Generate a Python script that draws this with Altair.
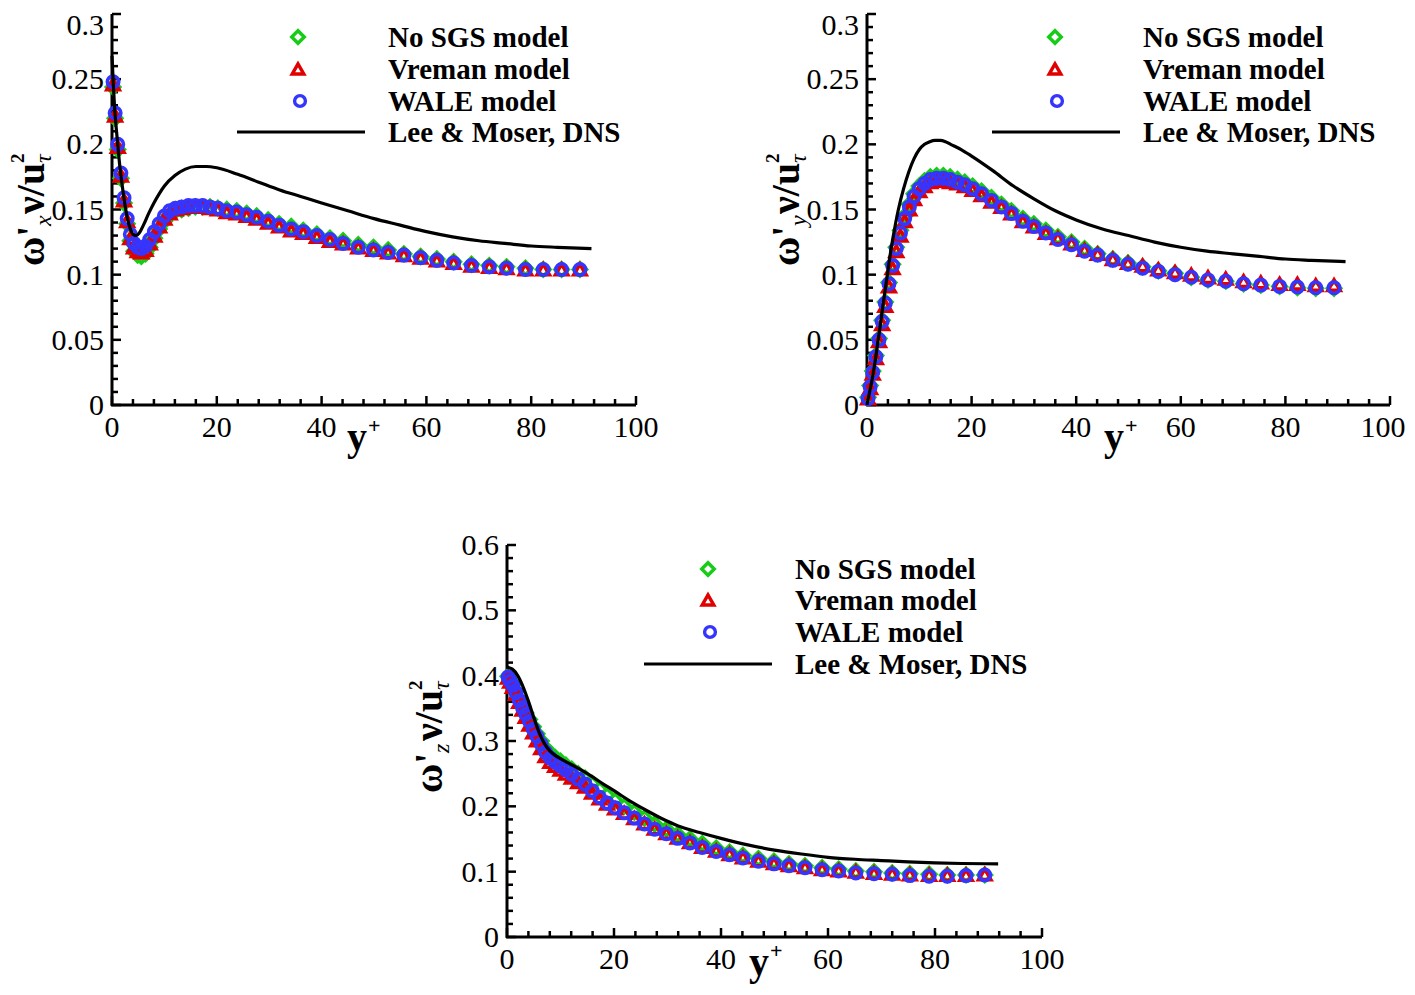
import altair as alt
import pandas as pd

# ---------------- data ----------------
yp = [0.2, 0.6, 1.1, 1.7, 2.3, 2.9, 3.5, 4.2, 4.9, 5.6,
      6.4, 7.2, 8.1, 9.0, 10.0, 11.0, 12.1, 13.3, 14.6, 15.9,
      17.3, 18.7, 20.2, 21.9, 23.8, 25.7, 27.6, 29.8, 31.9, 34.2,
      36.5, 39.1, 41.6, 44.1, 47.0, 49.9, 52.7, 55.7, 58.9, 62.0,
      65.2, 68.6, 72.0, 75.3, 78.9, 82.3, 85.8, 89.3]

# omega_x
wx_nosgs = [0.244, 0.220, 0.196, 0.174, 0.155, 0.139, 0.126, 0.118, 0.115, 0.114,
            0.116, 0.121, 0.128, 0.135, 0.141, 0.146, 0.149, 0.150, 0.151, 0.152,
            0.152, 0.152, 0.151, 0.150, 0.149, 0.147, 0.145, 0.142, 0.139, 0.137,
            0.134, 0.131, 0.128, 0.126, 0.123, 0.121, 0.119, 0.116, 0.114, 0.112,
            0.110, 0.108, 0.107, 0.106, 0.105, 0.104, 0.104, 0.104]
wx_vreman = [0.246, 0.222, 0.198, 0.176, 0.157, 0.141, 0.128, 0.121, 0.118, 0.117,
             0.119, 0.124, 0.130, 0.137, 0.143, 0.147, 0.150, 0.151, 0.152, 0.152,
             0.152, 0.151, 0.150, 0.148, 0.147, 0.145, 0.143, 0.140, 0.137, 0.134,
             0.132, 0.129, 0.126, 0.124, 0.121, 0.119, 0.117, 0.115, 0.113, 0.111,
             0.109, 0.107, 0.106, 0.105, 0.104, 0.104, 0.104, 0.104]
wx_wale = [0.248, 0.224, 0.200, 0.178, 0.159, 0.143, 0.131, 0.124, 0.121, 0.120,
           0.122, 0.127, 0.133, 0.139, 0.145, 0.149, 0.151, 0.152, 0.153, 0.153,
           0.153, 0.152, 0.151, 0.149, 0.148, 0.146, 0.144, 0.141, 0.138, 0.135,
           0.133, 0.130, 0.127, 0.124, 0.121, 0.119, 0.117, 0.115, 0.113, 0.111,
           0.109, 0.107, 0.106, 0.105, 0.104, 0.104, 0.104, 0.104]
dns_x_yp = [0, 0.5, 1, 1.5, 2, 2.5, 3, 3.5, 4, 4.6,
            5.2, 6, 7, 8, 9, 10, 12, 14, 16, 18,
            20, 24, 28, 32, 36, 40, 45, 50, 55, 60,
            65, 70, 75, 80, 85, 91.5]
dns_x = [0.268, 0.228, 0.204, 0.183, 0.167, 0.153, 0.142, 0.135, 0.131, 0.130,
         0.132, 0.138, 0.147, 0.155, 0.162, 0.168, 0.176, 0.181, 0.183, 0.183,
         0.182, 0.177, 0.171, 0.165, 0.160, 0.155, 0.149, 0.143, 0.138, 0.133,
         0.129, 0.126, 0.124, 0.122, 0.121, 0.120]

# omega_y
wy_nosgs = [0.006, 0.015, 0.026, 0.038, 0.051, 0.065, 0.079, 0.094, 0.108, 0.121,
            0.134, 0.145, 0.154, 0.162, 0.168, 0.172, 0.175, 0.176, 0.176, 0.175,
            0.173, 0.171, 0.168, 0.164, 0.159, 0.154, 0.149, 0.143, 0.139, 0.134,
            0.129, 0.125, 0.120, 0.116, 0.112, 0.109, 0.106, 0.103, 0.101, 0.098,
            0.096, 0.095, 0.093, 0.092, 0.091, 0.090, 0.0895, 0.0895]
wy_vreman = [0.005, 0.013, 0.024, 0.036, 0.049, 0.062, 0.076, 0.091, 0.105, 0.118,
             0.130, 0.141, 0.150, 0.158, 0.164, 0.168, 0.171, 0.172, 0.172, 0.171,
             0.170, 0.168, 0.165, 0.161, 0.156, 0.152, 0.147, 0.141, 0.137, 0.132,
             0.128, 0.124, 0.119, 0.116, 0.112, 0.109, 0.107, 0.104, 0.102, 0.100,
             0.098, 0.097, 0.095, 0.094, 0.093, 0.093, 0.092, 0.092]
wy_wale = [0.005, 0.014, 0.025, 0.037, 0.050, 0.064, 0.078, 0.093, 0.107, 0.120,
           0.132, 0.143, 0.152, 0.160, 0.166, 0.170, 0.173, 0.174, 0.174, 0.173,
           0.171, 0.169, 0.166, 0.162, 0.157, 0.152, 0.147, 0.141, 0.137, 0.132,
           0.127, 0.123, 0.118, 0.115, 0.111, 0.108, 0.105, 0.1025, 0.100, 0.098,
           0.096, 0.095, 0.093, 0.092, 0.091, 0.0905, 0.090, 0.090]
dns_y_yp = [0, 0.5, 1, 1.5, 2, 2.5, 3, 3.5, 4, 4.5,
            5, 6, 7, 8, 9, 10, 11, 12, 13, 14,
            15, 16, 18, 20, 24, 28, 32, 36, 40, 45,
            50, 55, 60, 65, 70, 75, 80, 85, 91.5]
dns_y = [0.0, 0.010, 0.020, 0.032, 0.046, 0.060, 0.075, 0.089, 0.103, 0.117,
         0.129, 0.150, 0.166, 0.179, 0.189, 0.196, 0.200, 0.202, 0.203, 0.203,
         0.202, 0.200, 0.196, 0.191, 0.180, 0.168, 0.158, 0.149, 0.142, 0.135,
         0.130, 0.125, 0.121, 0.118, 0.116, 0.114, 0.112, 0.111, 0.110]

# omega_z
wz_nosgs = [0.399, 0.393, 0.386, 0.376, 0.364, 0.353, 0.343, 0.333, 0.322, 0.311,
            0.300, 0.289, 0.281, 0.275, 0.269, 0.263, 0.257, 0.250, 0.243, 0.235,
            0.226, 0.217, 0.209, 0.200, 0.191, 0.182, 0.173, 0.165, 0.157, 0.150,
            0.143, 0.136, 0.130, 0.125, 0.120, 0.116, 0.112, 0.109, 0.106, 0.104,
            0.101, 0.100, 0.098, 0.097, 0.096, 0.095, 0.095, 0.095]
wz_vreman = [0.397, 0.391, 0.383, 0.372, 0.360, 0.348, 0.337, 0.325, 0.313, 0.301,
             0.289, 0.277, 0.268, 0.262, 0.256, 0.250, 0.244, 0.237, 0.230, 0.221,
             0.212, 0.204, 0.197, 0.190, 0.182, 0.174, 0.166, 0.159, 0.152, 0.145,
             0.138, 0.132, 0.127, 0.122, 0.117, 0.113, 0.110, 0.107, 0.104, 0.102,
             0.100, 0.098, 0.097, 0.096, 0.095, 0.095, 0.095, 0.096]
wz_wale = [0.398, 0.392, 0.385, 0.374, 0.362, 0.351, 0.341, 0.330, 0.318, 0.307,
           0.295, 0.283, 0.274, 0.268, 0.262, 0.256, 0.249, 0.242, 0.234, 0.224,
           0.214, 0.205, 0.198, 0.190, 0.182, 0.173, 0.165, 0.158, 0.151, 0.144,
           0.137, 0.131, 0.126, 0.121, 0.116, 0.112, 0.109, 0.106, 0.103, 0.101,
           0.098, 0.097, 0.096, 0.094, 0.093, 0.093, 0.094, 0.095]
dns_z_yp = [0, 1, 2, 3, 4, 5, 6, 7, 8, 9,
            10, 12, 14, 16, 18, 20, 23, 26, 29, 32,
            36, 40, 45, 50, 55, 60, 65, 70, 75, 80,
            85, 91.8]
dns_z = [0.413, 0.410, 0.400, 0.383, 0.361, 0.336, 0.313, 0.296, 0.285, 0.278,
         0.273, 0.264, 0.255, 0.245, 0.234, 0.224, 0.208, 0.194, 0.181, 0.170,
         0.160, 0.151, 0.141, 0.133, 0.127, 0.122, 0.119, 0.117, 0.115, 0.1135,
         0.1125, 0.112]

legend_labels = ["No SGS model", "Vreman model", "WALE model", "Lee & Moser, DNS"]
x_ticks = [0, 20, 40, 60, 80, 100]
x_tick_labels = ["0", "20", "40", "60", "80", "100"]
x_minor = [v for v in range(0, 101, 4) if v % 20]
y_ticks_top = [0, 0.05, 0.1, 0.15, 0.2, 0.25, 0.3]
y_labels_top = ["0", "0.05", "0.1", "0.15", "0.2", "0.25", "0.3"]
y_minor_top = [round(i * 0.01, 2) for i in range(31) if i % 5]
y_ticks_bot = [0, 0.1, 0.2, 0.3, 0.4, 0.5, 0.6]
y_labels_bot = ["0", "0.1", "0.2", "0.3", "0.4", "0.5", "0.6"]
y_minor_bot = [round(i * 0.02, 2) for i in range(31) if i % 5]

# ---------------- style ----------------
FONT = "Liberation Serif"
GREEN, RED, BLUE = "#16cc16", "#e00000", "#3535ff"
LBL = 30
one = pd.DataFrame({"k": [0]})
STYLES = [("diamond", GREEN, 175), ("triangle-up", RED, 150), ("circle", BLUE, 130)]


def txt(x, y, s, size, weight="bold", style="normal", angle=0, align="left"):
    return alt.Chart(one).mark_text(
        text=s, font=FONT, fontSize=size, fontWeight=weight, fontStyle=style,
        angle=angle, align=align, baseline="alphabetic", color="black"
    ).encode(x=alt.value(x), y=alt.value(y))


def vrule(**enc):
    return alt.Chart(one).mark_rule(color="black", strokeWidth=3).encode(
        **{k: alt.value(v) for k, v in enc.items()})


def panel(geom, series, dnsx, dnsy, yt, ylabs, ymn, sub, leg, ytit, xtit, last_dx=0, top_y=None):
    x0, x1, yb, ytop, ymax = geom
    xs = alt.Scale(domain=[0, 100], range=[x0, x1], nice=False, zero=False)
    ys = alt.Scale(domain=[0, ymax], range=[yb, ytop], nice=False, zero=False)
    L = []
    # axis lines
    L.append(vrule(x=x0 - 1, x2=x1, y=yb))
    L.append(vrule(x=x0, y=ytop, y2=yb + 1))
    # inward ticks
    for vals, ln in ((x_ticks, 9), (x_minor, 6)):
        L.append(alt.Chart(pd.DataFrame({"t": vals})).mark_rule(color="black", strokeWidth=2.5)
                 .encode(x=alt.X("t:Q", scale=xs, axis=None), y=alt.value(yb), y2=alt.value(yb - ln)))
    for vals, ln in ((yt, 9), (ymn, 6)):
        L.append(alt.Chart(pd.DataFrame({"t": vals})).mark_rule(color="black", strokeWidth=2.5)
                 .encode(y=alt.Y("t:Q", scale=ys, axis=None), x=alt.value(x0), x2=alt.value(x0 + ln)))
    # tick labels
    xlab = pd.DataFrame({"t": x_ticks, "s": x_tick_labels})
    L.append(alt.Chart(xlab.iloc[:-1])
             .mark_text(font=FONT, fontSize=LBL, align="center", baseline="alphabetic", color="black")
             .encode(x=alt.X("t:Q", scale=xs, axis=None), y=alt.value(yb + 32), text="s:N"))
    L.append(alt.Chart(xlab.iloc[-1:])
             .mark_text(font=FONT, fontSize=LBL, align="center", baseline="alphabetic", dx=last_dx,
                        color="black")
             .encode(x=alt.X("t:Q", scale=xs, axis=None), y=alt.value(yb + 32), text="s:N"))
    ylow = pd.DataFrame({"t": yt, "s": ylabs})
    L.append(alt.Chart(ylow.iloc[:-1])
             .mark_text(font=FONT, fontSize=LBL, align="right", baseline="alphabetic", dy=10, color="black")
             .encode(y=alt.Y("t:Q", scale=ys, axis=None), x=alt.value(x0 - 8), text="s:N"))
    if top_y is None:
        L.append(alt.Chart(ylow.iloc[-1:])
                 .mark_text(font=FONT, fontSize=LBL, align="right", baseline="alphabetic", dy=10,
                            color="black")
                 .encode(y=alt.Y("t:Q", scale=ys, axis=None), x=alt.value(x0 - 8), text="s:N"))
    else:
        # top label kept fully inside the page
        L.append(txt(x0 - 8, top_y, ylabs[-1], LBL, weight="normal", align="right"))
    # LES series
    for vals, (shape, col, sz) in zip(series, STYLES):
        df = pd.DataFrame({"yp": yp, "v": vals})
        L.append(alt.Chart(df).mark_point(shape=shape, filled=False, color=col, size=sz,
                                          strokeWidth=3.6, opacity=1)
                 .encode(x=alt.X("yp:Q", scale=xs, axis=None), y=alt.Y("v:Q", scale=ys, axis=None)))
    # DNS line
    dfl = pd.DataFrame({"yp": dnsx, "v": dnsy})
    L.append(alt.Chart(dfl).mark_line(color="black", strokeWidth=3.2, interpolate="monotone")
             .encode(x=alt.X("yp:Q", scale=xs, axis=None), y=alt.Y("v:Q", scale=ys, axis=None)))
    # legend
    sx, tx, l1, l2, rows = leg
    for (shape, col, sz), r, dxs in zip(STYLES, rows[:3], (0, 0, 2)):
        L.append(alt.Chart(one).mark_point(shape=shape, filled=False, color=col, size=sz * 0.9,
                                           strokeWidth=3.4, opacity=1)
                 .encode(x=alt.value(sx + dxs), y=alt.value(r)))
    L.append(alt.Chart(one).mark_rule(color="black", strokeWidth=3.2)
             .encode(x=alt.value(l1), x2=alt.value(l2), y=alt.value(rows[3])))
    for lab, r in zip(legend_labels, rows):
        L.append(txt(tx, r + 10, lab, 29))
    # y title:  omega'_sub nu/u_tau^2  (rotated)
    bx, by = ytit
    L.append(txt(bx, by, "ω'", 40, angle=270))
    L.append(txt(bx + 7, by - 40, sub, 24, weight="normal", style="italic", angle=270))
    L.append(txt(bx, by - 52, "ν/u", 40, angle=270))
    L.append(txt(bx + 7, by - 103, "τ", 24, weight="normal", style="italic", angle=270))
    L.append(txt(bx - 20, by - 103, "2", 19, angle=270))
    # x title y+
    gx, gy = xtit
    L.append(txt(gx, gy, "y", 40))
    L.append(txt(gx + 21, gy - 17, "+", 22))
    return L


# panel geometry in canvas pixels (page minus 8px margin): x0, x1, y_bottom, y_top, ymax
GA = (104, 628, 397, 6, 0.3)
GB = (859, 1382, 397, 6, 0.3)
GC = (499, 1034, 929, 537, 0.6)

layers = []
layers += panel(GA, [wx_nosgs, wx_vreman, wx_wale], dns_x_yp, dns_x, y_ticks_top, y_labels_top,
                y_minor_top, "x", (290, 380, 229, 357, [29, 61, 93, 124]), (36, 258), (339, 442),
                top_y=27)
layers += panel(GB, [wy_nosgs, wy_vreman, wy_wale], dns_y_yp, dns_y, y_ticks_top, y_labels_top,
                y_minor_top, "y", (1047, 1135, 984, 1112, [29, 61, 93, 124]), (791, 258), (1096, 442),
                last_dx=-7, top_y=27)
layers += panel(GC, [wz_nosgs, wz_vreman, wz_wale], dns_z_yp, dns_z, y_ticks_bot, y_labels_bot,
                y_minor_bot, "z", (700, 787, 636, 764, [561, 592, 624, 656]), (434, 785), (741, 967))

chart = alt.layer(*layers).resolve_scale(x="independent", y="independent").properties(
    width=1399, height=979, padding=0, autosize=alt.AutoSizeParams(type="none")
).configure_view(stroke=None)

chart.save("out.html", embed_options={"renderer": "svg", "actions": False})
